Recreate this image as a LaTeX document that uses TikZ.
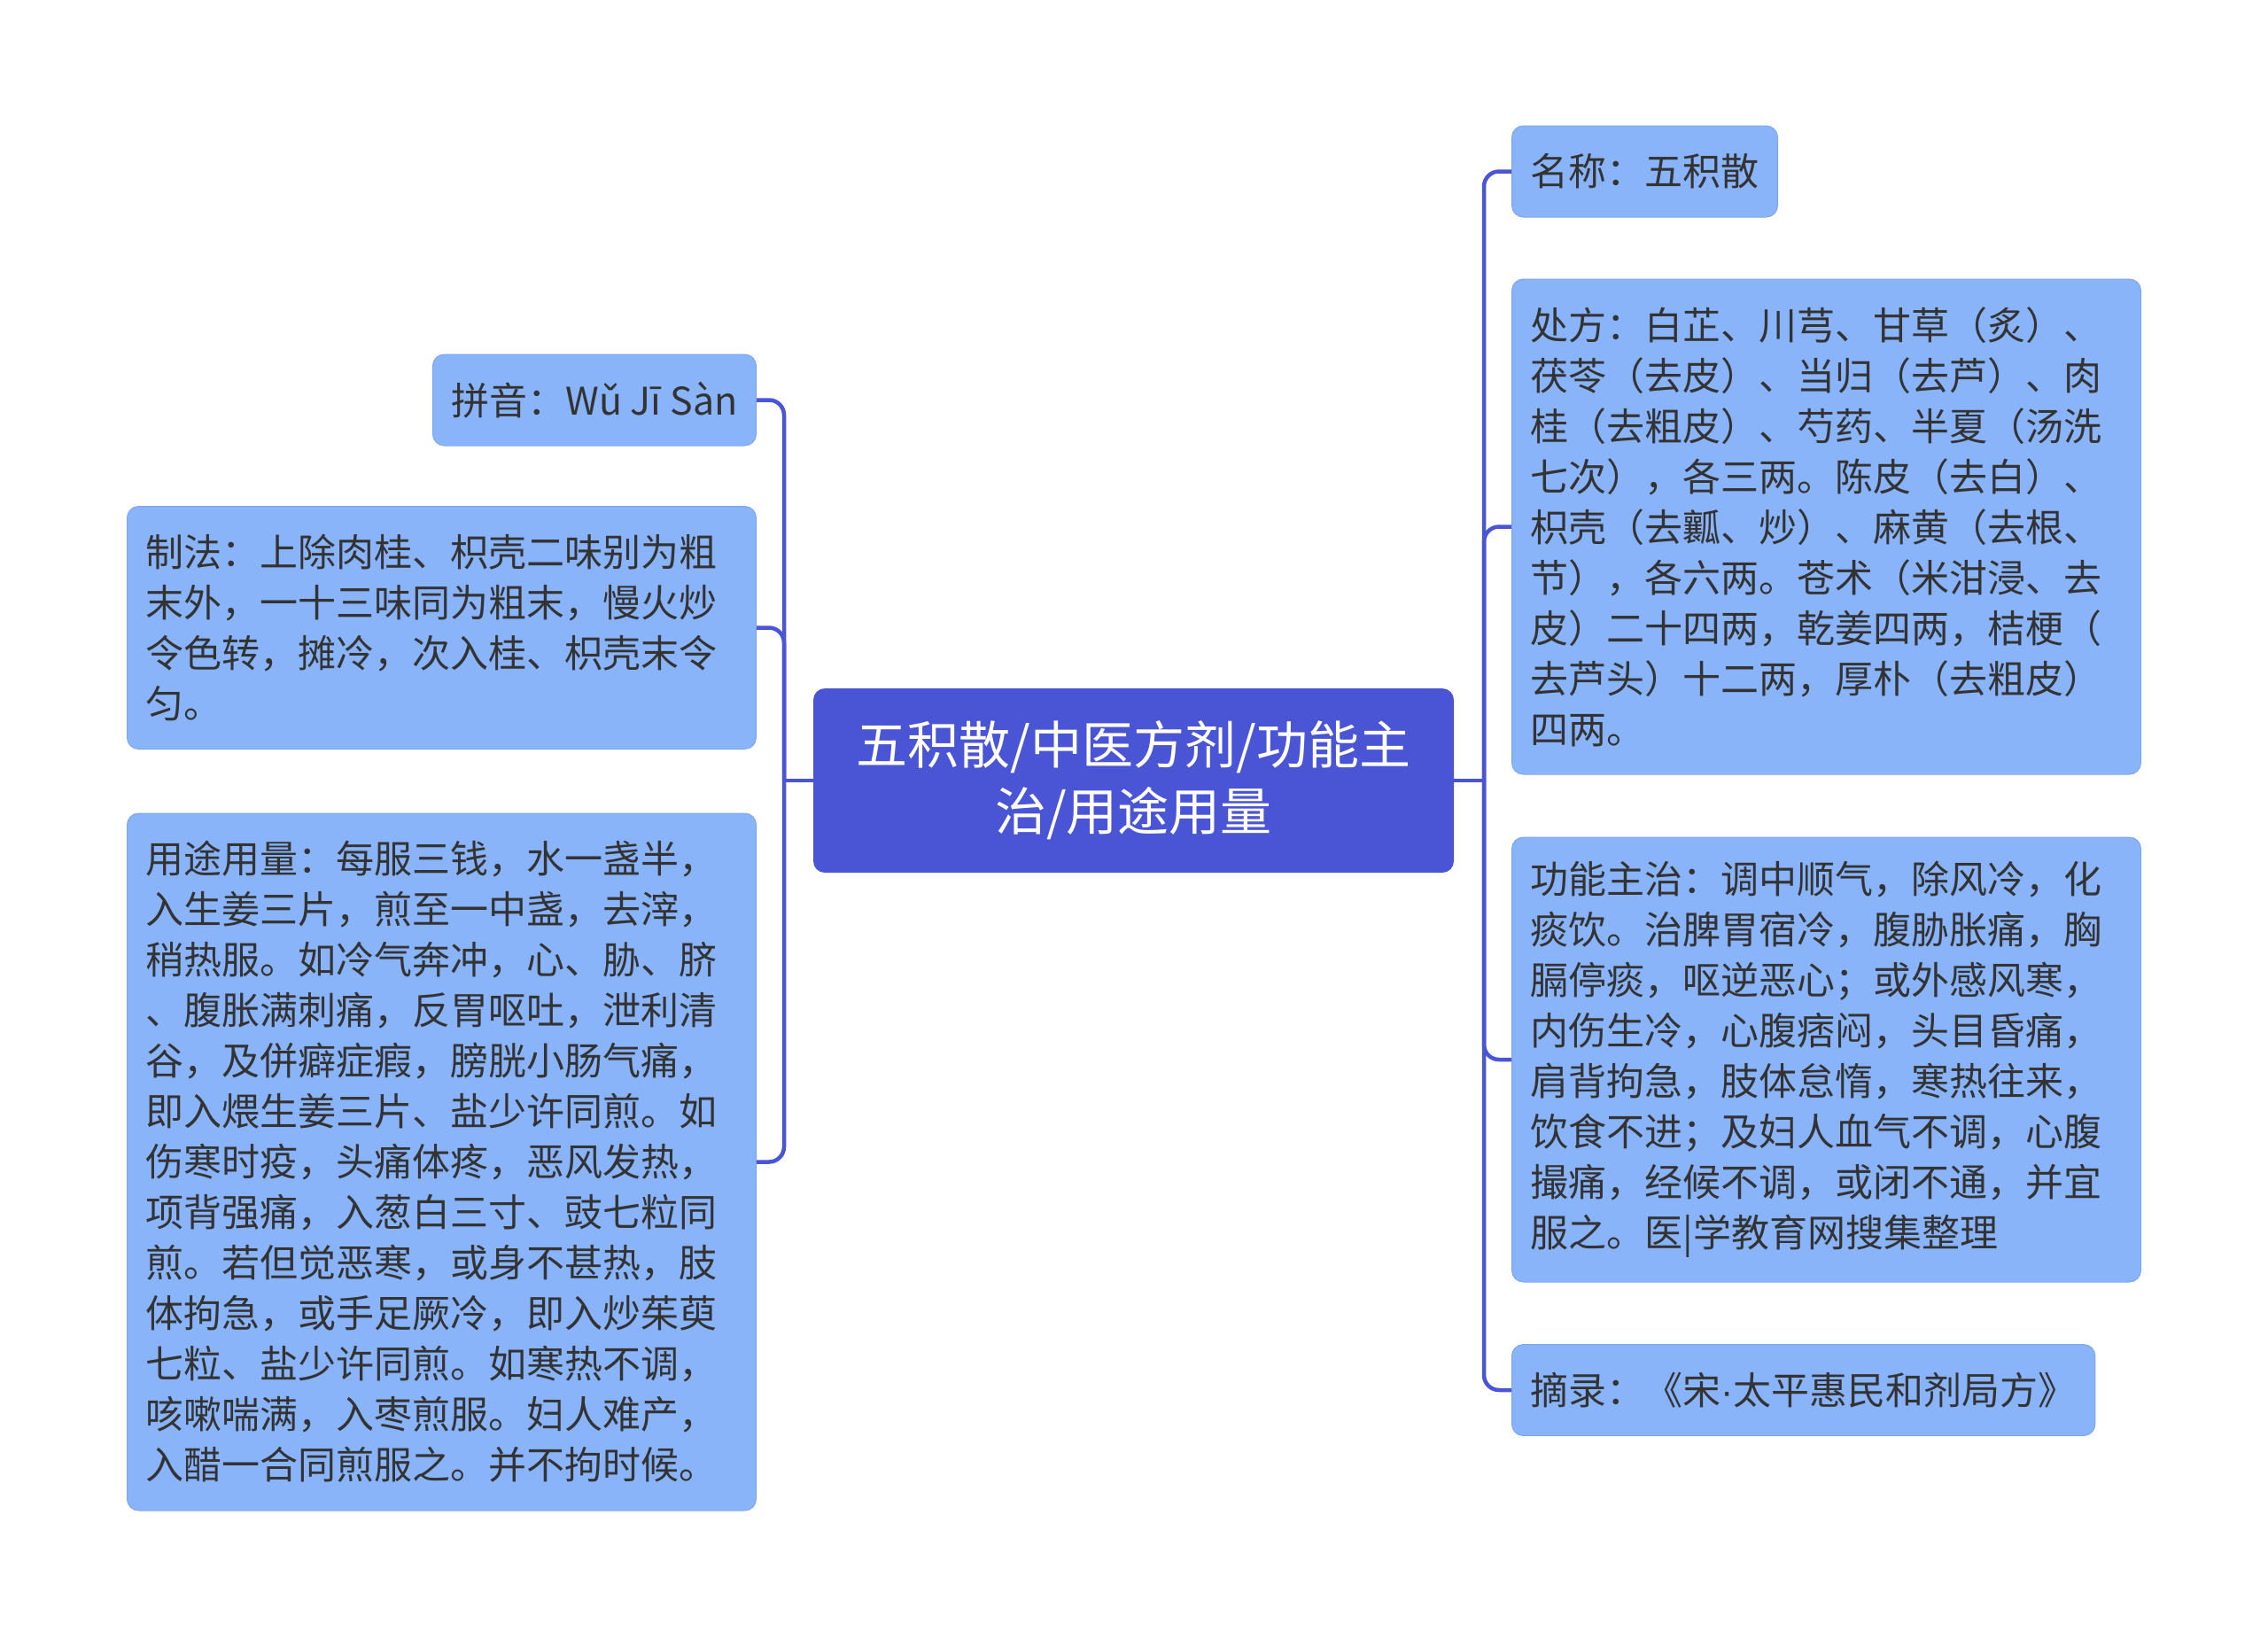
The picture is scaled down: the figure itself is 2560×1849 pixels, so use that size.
\documentclass[tikz,border=0pt]{standalone}
\usepackage{fontspec}
\newfontfamily\cjk{Noto Sans CJK SC}
\newfontfamily\latin{Liberation Sans}
\definecolor{rootblue}{RGB}{74,85,214}
\definecolor{leafblue}{RGB}{138,180,250}
\definecolor{leafline}{RGB}{125,166,240}
\definecolor{linkblue}{RGB}{74,85,214}
\definecolor{leaftext}{RGB}{51,51,51}

\begin{document}
\begin{tikzpicture}[
    x=0.5pt, y=-0.5pt,
    root/.style={rectangle, rounded corners=6.5pt, fill=rootblue, text=white,
        minimum width=361.5pt, minimum height=104pt, align=center,
        font=\cjk\fontsize{29}{37.5}\selectfont},
    leaf/.style={rectangle, rounded corners=6.5pt, fill=leafblue, draw=leafline,
        line width=0.5pt, text=leaftext, inner xsep=10.5pt, inner ysep=0pt,
        align=left, font=\cjk\fontsize{21.5}{28.5}\selectfont},
    nlines/.style={minimum height={#1*28.5pt+23pt}},
    wide/.style={text width=334pt},
    link/.style={draw=linkblue, line width=2.25pt, rounded corners=8.5pt}
]
    \useasboundingbox (0,0) rectangle (2560,1849);

    \node[root] (root) at (1279.5,881) {五积散/中医方剂/功能主\\治/用途用量};

    \node[leaf, nlines=1, anchor=east] (pinyin) at (854,451.5) {拼音：Wǔ Jī Sàn};
    \node[leaf, nlines=4, wide, anchor=east] (zhifa) at (854,708.5) {制法：上除肉桂、枳壳二味别为粗\\
        末外，一十三味同为粗末，慢火炒\\
        令色转，摊冷，次入桂、枳壳末令\\
        匀。};
    \node[leaf, nlines=13, wide, anchor=east] (yongtu) at (854,1311.5) {用途用量：每服三钱，水一盏半，\\
        入生姜三片，煎至一中盏，去滓，\\
        稍热服。如冷气奔冲，心、胁、脐\\
        、腹胀满刺痛，反胃呕吐，泄利清\\
        谷，及併癖症瘕，膀胱小肠气痛，\\
        即入煨生姜三片、盐少许同煎。如\\
        伤寒时疫，头痛体疼，恶风发热，\\
        项背强痛，入葱白三寸、豉七粒同\\
        煎。若但觉恶寒，或身不甚热，肢\\
        体拘急，或手足厥冷，即入炒茱萸\\
        七粒、盐少许同煎。如寒热不调，\\
        咳嗽喘满，入枣煎服。妇人难产，\\
        入醋一合同煎服之。并不拘时候。};

    \node[leaf, nlines=1, anchor=west] (mingcheng) at (1706,193.5) {名称：五积散};
    \node[leaf, nlines=9, wide, anchor=west] (chufang) at (1706,594.5) {处方：白芷、川芎、甘草（炙）、\\
        茯苓（去皮）、当归（去芦）、肉\\
        桂（去粗皮）、芍药、半夏（汤洗\\
        七次），各三两。陈皮（去白）、\\
        枳壳（去瓤、炒）、麻黄（去根、\\
        节），各六两。苍术（米泔浸、去\\
        皮）二十四两，乾姜四两，桔梗（\\
        去芦头）十二两，厚朴（去粗皮）\\
        四两。};
    \node[leaf, nlines=8, wide, anchor=west] (gongneng) at (1706,1196) {功能主治：调中顺气，除风冷，化\\
        痰饮。治脾胃宿冷，腹胁胀痛，胸\\
        膈停痰，呕逆恶心；或外感风寒，\\
        内伤生冷，心腹痞闷，头目昏痛，\\
        肩背拘急，肢体怠惰，寒热往来，\\
        饮食不进；及妇人血气不调，心腹\\
        撮痛，经候不调，或闭不通，并宜\\
        服之。医|学教育网搜集整理};
    \node[leaf, nlines=1, anchor=west] (zhailu) at (1706,1569) {摘录：《宋{\latin ·}太平惠民和剂局方》};

    \coordinate (lbus) at (885,881);
    \coordinate (rbus) at (1675,881);

    \draw[link] (root.west) -- (lbus);
    \draw[link] (lbus) |- (pinyin.east);
    \draw[link] (lbus) |- (zhifa.east);
    \draw[link] (lbus) |- (yongtu.east);

    \draw[link] (root.east) -- (rbus);
    \draw[link] (rbus) |- (mingcheng.west);
    \draw[link] (rbus) |- (chufang.west);
    \draw[link] (rbus) |- (gongneng.west);
    \draw[link] (rbus) |- (zhailu.west);
\end{tikzpicture}
\end{document}
